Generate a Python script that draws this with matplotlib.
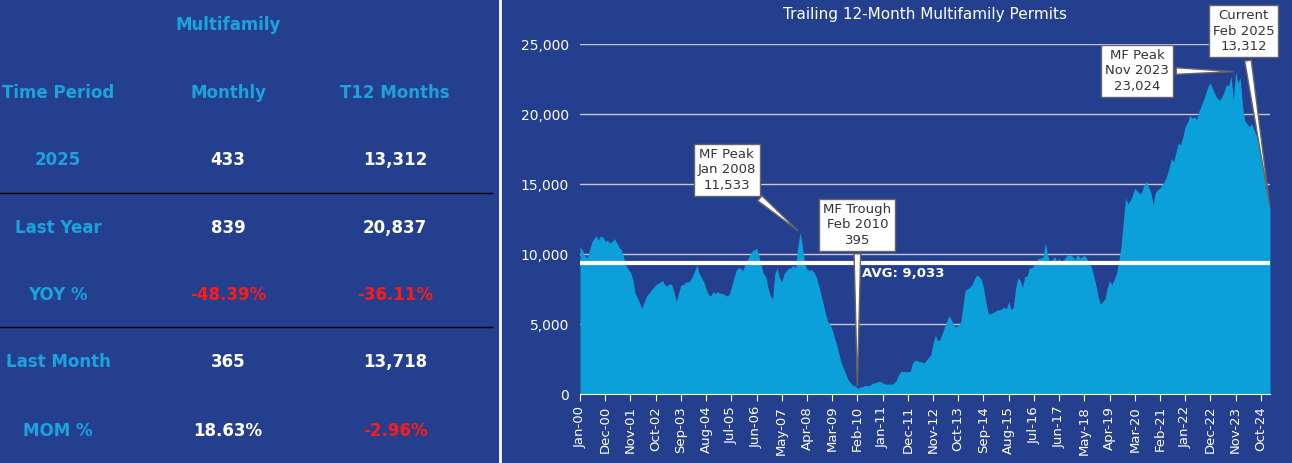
import matplotlib
matplotlib.use("Agg")
import matplotlib.pyplot as plt
import numpy as np
import pandas as pd

# T12 multifamily permits, thousands, monthly Jan-2000 .. Feb-2025
t12_k = [
    10.5, 10.3, 9.9, 9.7, 10.2, 10.8, 11.1, 11.3, 11.0, 11.3, 11.2, 10.9,
    11.0, 10.8, 10.9, 11.1, 10.8, 10.5, 10.3, 9.8, 9.2, 8.9, 8.7, 8.2,
    7.2, 6.9, 6.5, 6.1, 6.6, 7.0, 7.2, 7.4, 7.6, 7.8, 7.9, 8.0,
    8.1, 7.8, 7.7, 7.9, 7.8, 7.3, 6.6, 7.2, 7.8, 7.8, 8.0, 8.0,
    8.1, 8.4, 8.8, 9.2, 8.6, 8.3, 8.0, 7.5, 7.1, 7.0, 7.3, 7.2,
    7.3, 7.2, 7.2, 7.1, 7.0, 7.1, 7.6, 8.2, 8.8, 9.0, 9.0, 8.8,
    9.3, 9.6, 9.9, 10.2, 10.3, 10.4, 9.9, 9.2, 8.6, 8.4, 7.6, 7.0,
    6.8, 8.6, 9.0, 8.3, 8.0, 8.6, 8.8, 9.0, 9.0, 9.2, 9.0, 10.5,
    11.533, 10.6, 9.3, 8.9, 8.8, 8.9, 8.7, 8.4, 7.8, 7.2, 6.5, 5.8,
    5.2, 5.0, 4.6, 4.0, 3.5, 2.8, 2.2, 1.8, 1.4, 1.0, 0.8, 0.6,
    0.6, 0.395, 0.5, 0.5, 0.6, 0.6, 0.6, 0.7, 0.8, 0.8, 0.9, 0.9,
    0.8, 0.7, 0.7, 0.7, 0.7, 0.8, 1.0, 1.4, 1.6, 1.6, 1.6, 1.6,
    1.6, 2.2, 2.4, 2.4, 2.3, 2.3, 2.2, 2.4, 2.6, 2.8, 3.6, 4.2,
    3.8, 3.9, 4.3, 4.8, 5.2, 5.6, 5.3, 4.9, 4.8, 4.9, 5.1, 6.2,
    7.4, 7.5, 7.6, 7.8, 8.2, 8.5, 8.4, 8.2, 7.6, 6.6, 5.8, 5.7,
    5.8, 5.9, 6.0, 6.0, 6.1, 6.2, 6.1, 6.6, 6.0, 6.2, 7.5, 8.3,
    8.1, 7.6, 8.4, 8.4, 9.0, 9.0, 9.2, 9.4, 9.7, 9.7, 9.8, 10.8,
    9.9, 9.4, 9.6, 9.8, 9.5, 9.7, 9.4, 9.6, 9.8, 10.0, 9.9, 9.8,
    9.6, 10.0, 9.7, 9.8, 9.9, 9.7, 9.4, 9.1, 8.5, 7.8, 7.0, 6.4,
    6.6, 6.8, 7.6, 8.1, 7.8, 8.2, 8.6, 9.5, 10.5, 12.3, 14.0, 13.6,
    13.8, 14.2, 14.7, 14.5, 14.3, 14.4, 14.9, 15.2, 14.8, 14.4, 13.5, 14.4,
    14.6, 14.7, 15.0, 15.2, 15.6, 16.2, 16.8, 16.6, 17.3, 17.9, 17.8, 18.4,
    19.1, 19.4, 19.9, 19.7, 19.8, 19.6, 20.2, 20.6, 21.0, 21.5, 22.0, 22.2,
    21.8, 21.4, 21.1, 21.0, 21.2, 21.6, 22.1, 22.0, 22.7, 21.0, 23.024, 22.2,
    22.6, 20.6, 19.5, 19.3, 19.1, 19.3, 18.9, 18.5, 17.8, 17.0, 16.1, 15.0,
    14.2, 13.312,
]
dates = pd.date_range("2000-01-01", periods=len(t12_k), freq="MS")
avg_label = "AVG: 9,033"
avg_line_value = 9350  # where the white line sits in the picture

col_headers = ["Time Period", "Monthly", "T12 Months"]
row_labels = ["2025", "Last Year", "YOY %", "Last Month", "MOM %"]
monthly_vals = ["433", "839", "-48.39%", "365", "18.63%"]
t12_vals = ["13,312", "20,837", "-36.11%", "13,718", "-2.96%"]

BG = "#253F8F"
CYAN = "#1BA3DE"
FILL = "#0BA0DA"
RED = "#FF1A1A"

fig = plt.figure(figsize=(12.92, 4.63), dpi=100, facecolor=BG)
W, H = 1292, 463

# ---- left table
def fy(py):
    return 1 - py / H

fig.text(228 / W, fy(25), "Multifamily", color=CYAN, fontsize=12, weight="bold",
         ha="center", va="center")
for x, h in zip([58, 228, 395], col_headers):
    fig.text(x / W, fy(93), h, color=CYAN, fontsize=12, weight="bold", ha="center", va="center")
row_y = [160, 228, 295, 362, 431]
for y, lab, m, t in zip(row_y, row_labels, monthly_vals, t12_vals):
    fig.text(58 / W, fy(y), lab, color=CYAN, fontsize=12, weight="bold", ha="center", va="center")
    for x, v in ((228, m), (395, t)):
        c = RED if v.startswith("-") else "white"
        fig.text(x / W, fy(y), v, color=c, fontsize=12, weight="bold", ha="center", va="center")
for y in (193, 327):
    fig.add_artist(plt.Line2D([0, 492 / W], [fy(y), fy(y)], color="black", lw=1))
fig.add_artist(plt.Line2D([500 / W, 500 / W], [0, 1], color="white", lw=2))

# ---- right chart
ax = fig.add_axes([580 / W, 1 - 394 / H, 690 / W, 350 / H])
ax.set_facecolor(BG)
vals = np.array(t12_k) * 1000
x = np.arange(len(vals))
ax.fill_between(x, 0, vals, color=FILL, lw=0, zorder=2)
ax.set_xlim(0, len(vals) - 1)
ax.set_ylim(0, 25000)
ax.set_yticks(np.arange(0, 25001, 5000))
ax.set_yticklabels([f"{v:,}" for v in range(0, 25001, 5000)])
ax.grid(axis="y", color="#C8C8D8", lw=1, zorder=1)
xt = np.arange(0, len(vals), 11)
ax.set_xticks(xt)
ax.set_xticklabels([dates[i].strftime("%b-%y") for i in xt], rotation=90)
ax.tick_params(axis="y", length=0, colors="white", labelsize=10, pad=8)
ax.tick_params(axis="x", colors="white", labelsize=9.5, length=5, direction="out")
for s in ["top", "right", "left"]:
    ax.spines[s].set_visible(False)
ax.spines["bottom"].set_color("white")
ax.axhline(avg_line_value, color="white", lw=3, zorder=3)
ax.text(123, avg_line_value - 250, avg_label, color="white", fontsize=9.5, weight="bold",
        va="top", ha="left", zorder=4)
fig.text(925 / W, fy(14), "Trailing 12-Month Multifamily Permits", color="white",
         fontsize=11, ha="center", va="center")

box = dict(boxstyle="square,pad=0.3", fc="white", ec="#666666", lw=1)
arrow = dict(arrowstyle="wedge,tail_width=0.5", fc="white", ec="#666666", lw=1)
i_peak = int(np.argmax(vals[:150]))
i_trough = int(np.argmin(vals))
i_max = int(np.argmax(vals))
i_cur = len(vals) - 1
notes = [
    (i_peak, "MF Peak\nJan 2008\n11,533", (64, 16000)),
    (i_trough, "MF Trough\nFeb 2010\n395", (121, 12100)),
    (i_max, "MF Peak\nNov 2023\n23,024", (243, 23100)),
    (i_cur, "Current\nFeb 2025\n13,312", (289.5, 25900)),
]
for i, txt, pos in notes:
    ax.annotate(txt, xy=(i, vals[i]), xytext=pos, ha="center", va="center",
                fontsize=9.5, color="#333333", bbox=box, arrowprops=arrow,
                annotation_clip=False, zorder=6, linespacing=1.25)

fig.savefig("out.png", dpi=100, facecolor=BG)
